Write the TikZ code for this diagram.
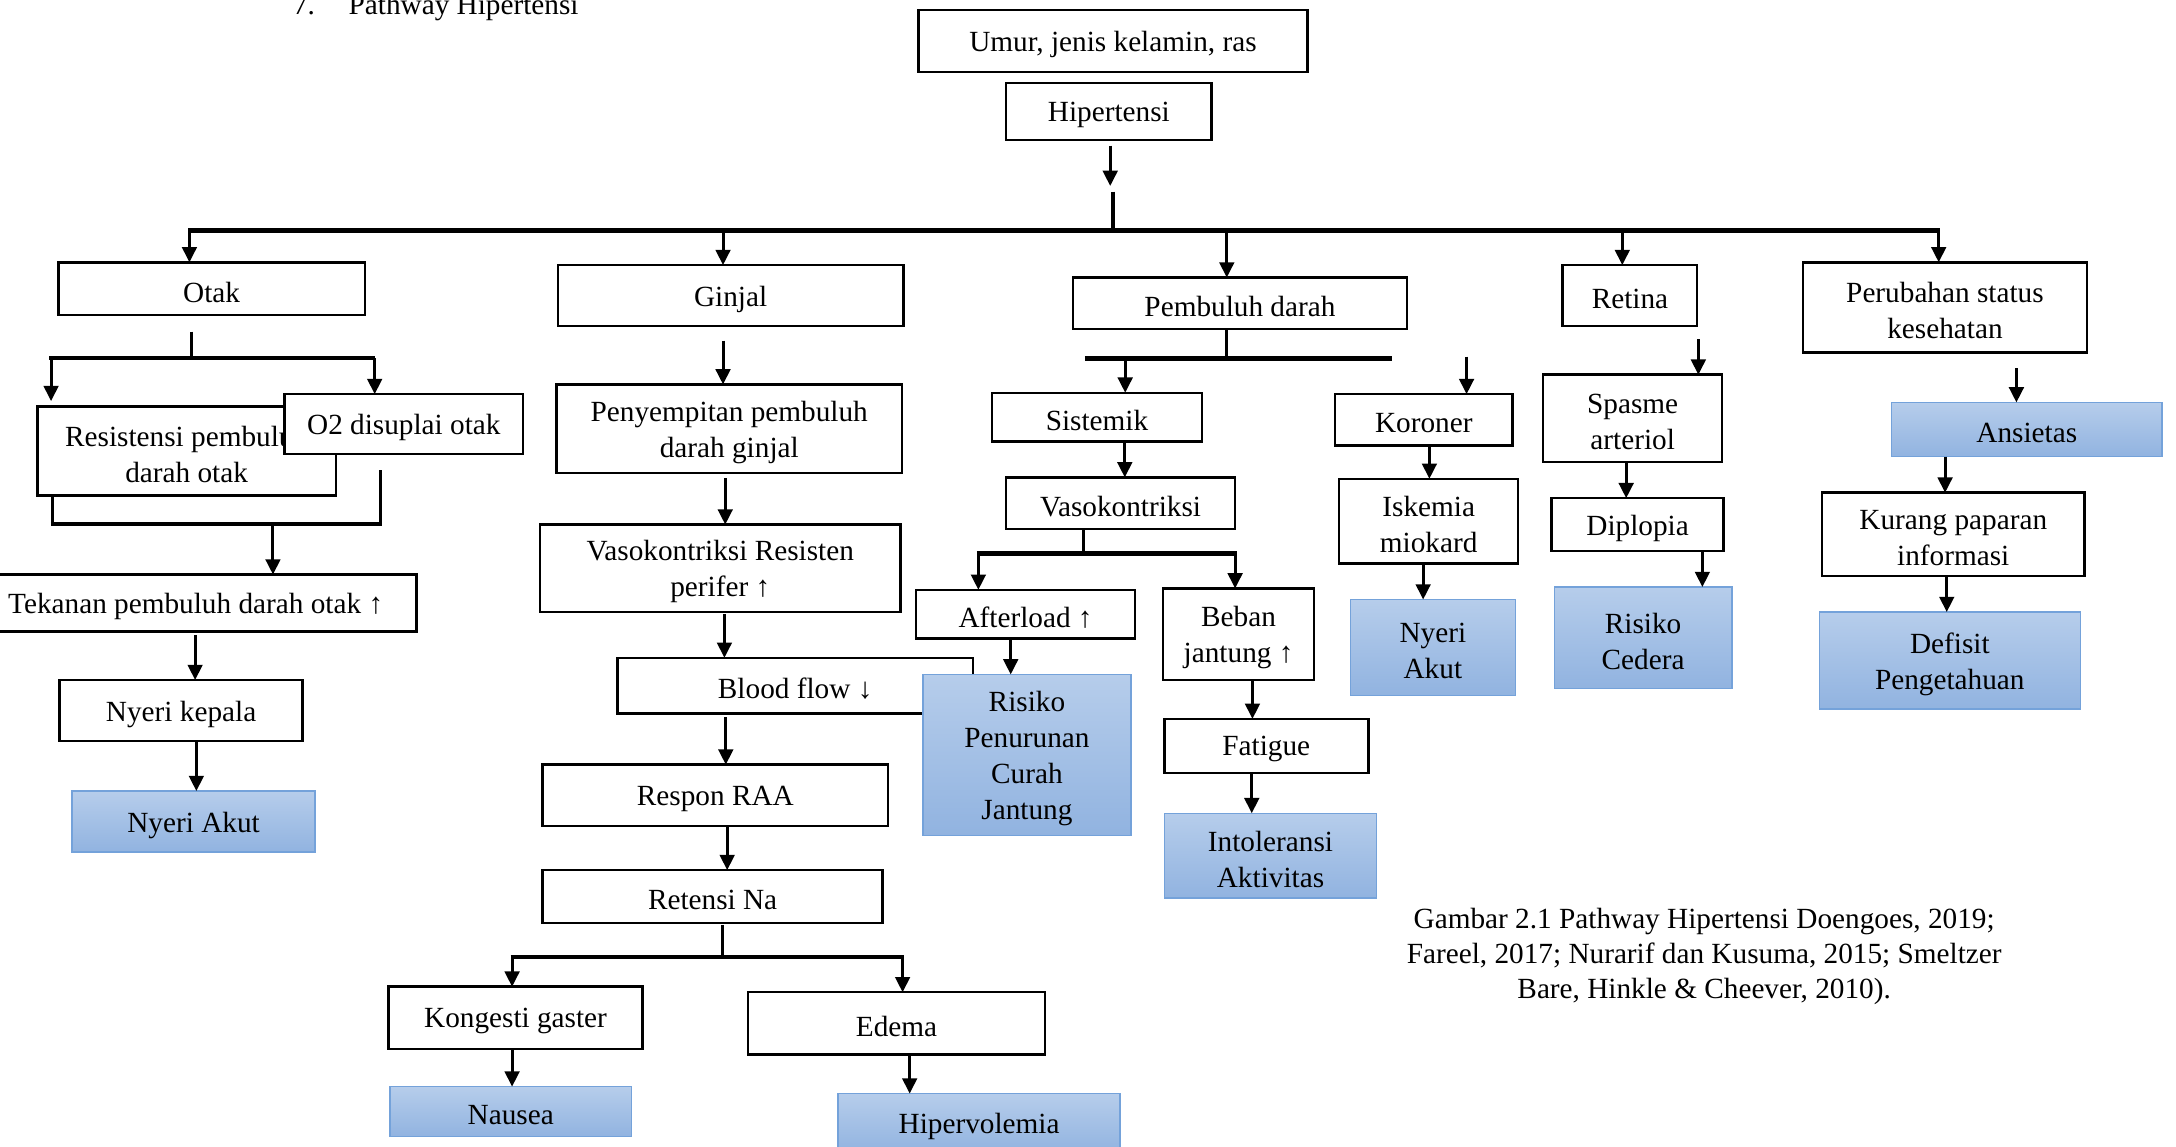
\documentclass[tikz,border=0pt]{standalone}
\usepackage{fontspec}
\setmainfont{Liberation Serif}
\usetikzlibrary{calc,arrows.meta}
\definecolor{bT}{HTML}{B6CDEB}
\definecolor{bB}{HTML}{91B3E0}
\definecolor{bD}{HTML}{74A2DA}
\tikzset{
 wb/.style={draw=black, line width=1pt, fill=white, inner sep=1pt, outer sep=0pt},
 bb/.style={wb, draw=bD, line width=0.6pt, top color=bT, bottom color=bB},
 txt/.style={align=center, inner sep=0pt, font=\fontsize{12}{14.8}\selectfont},
 arr/.style={line width=1.25pt, -{Triangle[length=0.22cm,width=0.21cm]}},
 ln/.style={line width=1.25pt},
 bus/.style={line width=1.8pt},
}
\newcommand\bx[7]{\node[#1, anchor=north west, minimum width={(#5-(#3))*0.02cm}, minimum height={(#6-(#4))*0.02cm}] (#2) at (#3,#4) {};
 \node[txt] (#2-t) at ([yshift=-0.05cm]#2.center) {#7};}
\newcommand\va[4]{\coordinate (xx) at (#2,0); \draw[arr] ($(#1.south -| xx)+(0,#3)$) coordinate (t) -- (t |- #4.north);}
\newcommand\vl[4]{\coordinate (xx) at (#2,0); \draw[ln] ($(#1.south -| xx)+(0,#3)$) -- (#2,#4);}
\newcommand\vin[3]{\draw[arr] (#2,#3) coordinate (t) -- (t |- #1.north);}
\begin{document}
\begin{tikzpicture}[x=0.02cm,y=-0.02cm]
\useasboundingbox (0,0) rectangle (1568,826);
\node[anchor=base west, font=\fontsize{12}{14.8}\selectfont] (t7) at (205,10.5) {7.};
\node[anchor=base west, font=\fontsize{12}{14.8}\selectfont] (tpw) at (245,10.5) {Pathway Hipertensi};
% top
\bx{wb}{umur}{662}{7}{942}{52}{Umur, jenis kelamin, ras}
\bx{wb}{hip}{725}{60}{873}{101}{Hipertensi}
% level 1
\bx{wb}{otak}{42}{189}{263}{227}{Otak}
\bx{wb}{ginjal}{402}{191}{651}{235}{Ginjal}
\bx{wb}{pd}{773}{200}{1014}{237}{Pembuluh darah}
\bx{wb}{retina}{1126}{191}{1223}{235}{Retina}
\bx{wb}{perubahan}{1299}{189}{1504}{254}{Perubahan status\\kesehatan}
% otak column
\bx{wb}{resist}{27}{293}{242}{357}{Resistensi pembuluh\\darah otak}
\bx{wb}{o2}{205}{284}{377}{327}{O2 disuplai otak}
\bx{wb}{tek}{-18}{414}{300}{455}{Tekanan pembuluh darah otak ↑}
\bx{wb}{nk}{43}{490}{218}{534}{Nyeri kepala}
\bx{bb}{na1}{52}{570}{227}{614}{Nyeri Akut}
% ginjal column
\bx{wb}{peny}{401}{277}{650}{341}{Penyempitan pembuluh\\darah ginjal}
\bx{wb}{vrp}{389}{378}{649}{441}{Vasokontriksi Resisten\\perifer ↑}
\bx{wb}{bf}{445}{474}{701}{514}{Blood flow ↓}
\bx{wb}{raa}{391}{551}{640}{595}{Respon RAA}
\bx{wb}{retna}{391}{627}{636}{665}{Retensi Na}
\bx{wb}{kg}{280}{711}{463}{756}{Kongesti gaster}
\bx{wb}{ed}{539}{715}{753}{760}{Edema}
\bx{bb}{nausea}{281}{783}{455}{819}{Nausea}
\bx{bb}{hv}{604}{788}{807}{831}{Hipervolemia}
% pembuluh darah column
\bx{wb}{sis}{715}{283}{866}{318}{Sistemik}
\bx{wb}{vaso}{725}{344}{890}{381}{Vasokontriksi}
\bx{wb}{aft}{660}{425}{818}{460}{Afterload ↑}
\bx{wb}{beban}{838}{424}{947}{490}{Beban\\jantung ↑}
\bx{bb}{rpcj}{665}{486}{815}{602}{Risiko\\Penurunan\\Curah\\Jantung}
\bx{wb}{fat}{839}{518}{986}{557}{Fatigue}
\bx{bb}{ia}{839}{586}{992}{647}{Intoleransi\\Aktivitas}
\bx{wb}{kor}{962}{284}{1090}{321}{Koroner}
\bx{wb}{isk}{965}{345}{1094}{406}{Iskemia\\miokard}
\bx{bb}{na2}{973}{432}{1092}{501}{Nyeri\\Akut}
% retina column
\bx{wb}{spasme}{1112}{270}{1241}{333}{Spasme\\arteriol}
\bx{wb}{dip}{1118}{359}{1242}{397}{Diplopia}
\bx{bb}{rc}{1120}{423}{1248}{496}{Risiko\\Cedera}
% perubahan column
\bx{bb}{ans}{1363}{290}{1558}{329}{Ansietas}
\bx{wb}{kp}{1313}{355}{1502}{415}{Kurang paparan\\informasi}
\bx{bb}{dp}{1311}{441}{1499}{511}{Defisit\\Pengetahuan}
% connectors: top
\draw[arr] ($(hip.south)+(1,4)$) -- (800,134);
\draw[ln] (802,138) -- (802,166);
\draw[bus] (135.5,166) -- (1398,166);
\vin{otak}{136.5}{166}
\vin{ginjal}{521}{166}
\vin{pd}{884}{166}
\vin{retina}{1169}{168}
\vin{perubahan}{1397}{166}
% otak
\vl{otak}{138}{12}{258}
\draw[bus] (35.4,258) -- (270.5,258);
\draw[arr] (36.8,258) -- (36.8,289);
\vin{o2}{270}{258}
\vl{resist}{37.6}{0}{377.6}
\vl{o2}{274}{11.7}{377.6}
\draw[bus] (36.7,377.6) -- (275,377.6);
\vin{tek}{196.7}{377.6}
\va{tek}{140.6}{2.6}{nk}
\va{nk}{141.5}{0}{na1}
% ginjal
\va{ginjal}{521}{10.5}{peny}
\va{peny}{522.6}{3.6}{vrp}
\va{vrp}{522}{1.6}{bf}
\va{bf}{523}{3}{raa}
\va{raa}{524}{0}{retna}
\vl{retna}{520.5}{1.5}{689.4}
\draw[bus] (368,689.4) -- (651.4,689.4);
\vin{kg}{369}{689.4}
\vin{ed}{650.4}{689.4}
\va{kg}{369}{0}{nausea}
\va{ed}{655.5}{0}{hv}
% pembuluh darah
\vl{pd}{884}{0}{258.2}
\draw[bus] (781.7,258.2) -- (1003,258.2);
\vin{sis}{810.8}{258.2}
\vin{kor}{1056.8}{257}
\va{sis}{810.5}{0}{vaso}
\vl{vaso}{781}{0}{398.7}
\draw[bus] (704,398.7) -- (891,398.7);
\vin{aft}{705}{398.7}
\vin{beban}{890}{398.7}
\va{aft}{728.3}{0}{rpcj}
\va{beban}{902.5}{0}{fat}
\va{fat}{902}{0}{ia}
\va{kor}{1030}{0}{isk}
\va{isk}{1025.5}{0}{na2}
% retina
\va{retina}{1223.8}{9.3}{spasme}
\va{spasme}{1171.8}{0}{dip}
\va{dip}{1226.7}{0}{rc}
% perubahan
\va{perubahan}{1453}{11.4}{ans}
\va{ans}{1401.6}{0}{kp}
\va{kp}{1402.8}{0}{dp}
% caption
\node[align=center, font=\fontsize{12}{14.4}\selectfont] (cap) at (1228,689) {Gambar 2.1 Pathway Hipertensi Doengoes, 2019;\\Fareel, 2017; Nurarif dan Kusuma, 2015; Smeltzer\\Bare, Hinkle \& Cheever, 2010).};
\end{tikzpicture}
\end{document}
